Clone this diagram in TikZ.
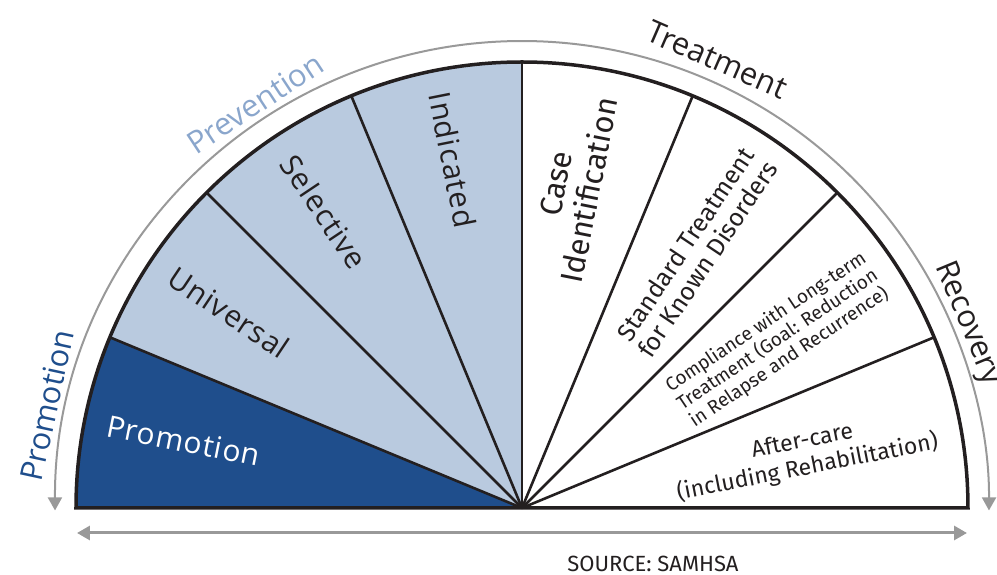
\documentclass[tikz,border=0pt]{standalone}
\usepackage{fontspec}
\usepackage{xcolor}
\usepackage{tikz}
\usetikzlibrary{positioning, arrows.meta, calc}
\setmainfont{Open Sans}
\newfontfamily\dinfont{Fira Sans}
\definecolor{promoblue}{HTML}{1F4E8C}
\definecolor{prevblue}{HTML}{B9CADF}
\definecolor{prevtext}{HTML}{8AA6CC}
\definecolor{guidegray}{HTML}{999999}
\definecolor{inkdark}{HTML}{231F20}

\begin{document}
\begin{tikzpicture}[x=1pt, y=1pt,
		rim/.style={line width=3.5pt, draw=inkdark, line join=miter},
		spoke/.style={line width=2.6pt, draw=inkdark},
		guide/.style={draw=guidegray, {Triangle[length=13pt, width=14pt]}-{Triangle[length=13pt, width=14pt]}},
		seclabel/.style={text=inkdark, font=\fontsize{30}{34}\selectfont\addfontfeatures{LetterSpace=3}, inner sep=0pt},
		trlabel/.style={text=inkdark, align=center, inner sep=0pt},
		outlabel/.style={font=\fontsize{31}{35}\selectfont, inner sep=0pt}]

		\useasboundingbox (-522,-67) rectangle (475,508);
		\coordinate (o) at (0,0);

		\fill[promoblue] (o) -- (180:446) arc[start angle=180, end angle=157.5, radius=446] -- cycle;
		\fill[prevblue] (o) -- (157.5:446) arc[start angle=157.5, end angle=90, radius=446] -- cycle;

		\foreach \i/\a in {1/157.5, 2/135, 3/112.5, 4/90, 5/67.5, 6/45, 7/22.5}
			\coordinate (r-\i) at (\a:446);
		\foreach \i in {1,...,7}
			\draw[spoke] (o) -- (r-\i);

		\coordinate (rim-l) at (180:446);
		\coordinate (rim-r) at (0:446);
		\draw[rim] (rim-r) arc[start angle=0, end angle=180, radius=446] -- (o) -- cycle;

		\coordinate (g-l) at (180.3:467);
		\draw[guide, line width=2pt] (g-l) arc[start angle=180.3, end angle=-0.3, radius=467];
		\coordinate (b-l) at (-445,-25);
		\coordinate (b-r) at (445,-25);
		\draw[guide, line width=3pt] (b-l) -- (b-r);

		\node[seclabel, text=white, rotate=-11.25] (promo) at (168.75:345) {Promotion};
		\node[seclabel, rotate=-33.75] (univ) at (146.25:352) {Universal};
		\node[seclabel, rotate=-56.25] (sel) at (123.75:356) {Selective};
		\node[seclabel, rotate=-78.75] (ind) at (101.25:355) {Indicated};

		\node[trlabel, font=\dinfont\fontsize{31}{34}\selectfont, rotate=78.75] (case) at (81:325) {Case\\Identification};
		\node[trlabel, font=\dinfont\fontsize{25}{27}\selectfont, rotate=56.25] (std) at (55.8:310) {Standard Treatment\\for Known Disorders};
		\node[trlabel, font=\dinfont\fontsize{19}{21}\selectfont, rotate=33.75] (comp) at (33.3:306) {Compliance with Long-term\\Treatment (Goal: Reduction\\in Relapse and Recurrence)};
		\node[trlabel, font=\dinfont\fontsize{23}{27}\selectfont, rotate=11.25] (after) at (10.6:288) {After-care\\(including Rehabilitation)};

		\node[outlabel, text=promoblue, rotate=77.8] (o-promo) at (167.8:486) {Promotion};
		\node[outlabel, text=prevtext, rotate=33.4] (o-prev) at (123.4:485) {Prevention};
		\node[outlabel, text=inkdark, rotate=-23.5] (o-treat) at (66.5:489) {Treatment};
		\node[outlabel, text=inkdark, rotate=-67.5] (o-rec) at (22.5:482) {Recovery};

		\node[text=inkdark, font=\dinfont\fontsize{22}{24}\selectfont, inner sep=0pt, text depth=0pt] (src) at (131,-56) {SOURCE: SAMHSA};
\end{tikzpicture}
\end{document}
